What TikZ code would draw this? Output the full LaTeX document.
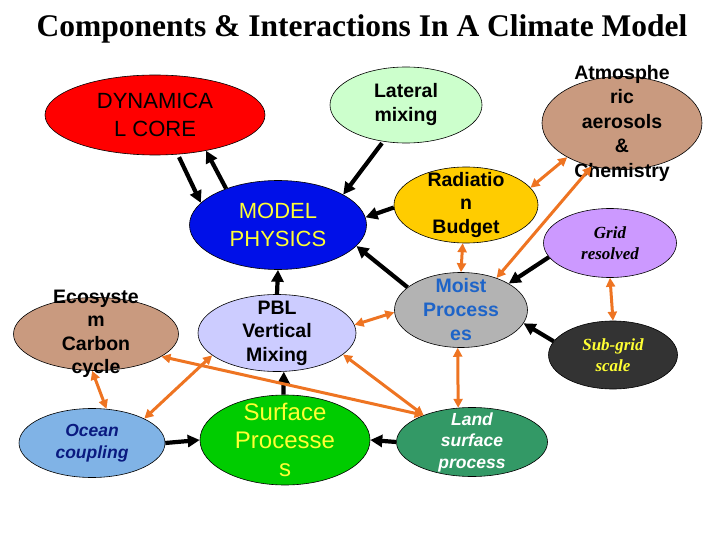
\documentclass[tikz,border=0pt]{standalone}
\usepackage{fontspec}
\setmainfont{Liberation Serif}
\setsansfont{Liberation Sans}
\usetikzlibrary{shapes.geometric,arrows.meta}
\definecolor{dyncol}{HTML}{FF0000}
\definecolor{latcol}{HTML}{CCFFCC}
\definecolor{brncol}{HTML}{C99A7F}
\definecolor{mpcol}{HTML}{0010E8}
\definecolor{radcol}{HTML}{FFCC00}
\definecolor{gridcol}{HTML}{CC99FF}
\definecolor{pblcol}{HTML}{CCCCFF}
\definecolor{moistcol}{HTML}{B3B3B3}
\definecolor{moisttxt}{HTML}{1E64C8}
\definecolor{subcol}{HTML}{333333}
\definecolor{oceancol}{HTML}{80B3E6}
\definecolor{oceantxt}{HTML}{0A1A80}
\definecolor{surfcol}{HTML}{00CC00}
\definecolor{landcol}{HTML}{339966}
\definecolor{yell}{HTML}{FFFF33}
\definecolor{orng}{HTML}{EE7422}
\newcommand{\fs}[2]{\fontsize{#1}{#2}\selectfont}
\begin{document}
\begin{tikzpicture}[x=1pt, y=-1pt,
    blob/.style={ellipse, draw=black, line width=0.6pt, inner sep=0pt},
    txt/.style={align=center, inner sep=0pt},
    blk/.style={-{Triangle[length=12pt,width=12pt]}, line width=4.2pt, black},
    org/.style={{Triangle[length=9pt,width=9pt]}-{Triangle[length=9pt,width=9pt]}, line width=3pt, orng}]
  \useasboundingbox (0,0) rectangle (720,540);
  \node[txt, font=\bfseries\fs{31.5}{36}] (title) at (362,29) {Components \& Interactions In A Climate Model};
  % the blobs
  \node[blob, fill=dyncol, minimum width=220, minimum height=80] (dyn) at (155,115) {};
  \node[blob, fill=latcol, minimum width=152, minimum height=76] (lat) at (406,105) {};
  \node[blob, fill=brncol, minimum width=160, minimum height=93] (atm) at (622,123) {};
  \node[blob, fill=mpcol, minimum width=177, minimum height=89] (mp) at (278,225) {};
  \node[blob, fill=radcol, minimum width=144, minimum height=76] (rad) at (466,205) {};
  \node[blob, fill=gridcol, minimum width=133, minimum height=69] (grid) at (610,243) {};
  \node[blob, fill=brncol, minimum width=165, minimum height=73] (eco) at (96,334) {};
  \node[blob, fill=pblcol, minimum width=158, minimum height=77] (pbl) at (277,333) {};
  \node[blob, fill=moistcol, minimum width=133, minimum height=75] (moist) at (461,310) {};
  \node[blob, fill=subcol, minimum width=129, minimum height=68] (sub) at (613,355) {};
  \node[blob, fill=oceancol, minimum width=146, minimum height=69] (ocean) at (92,443) {};
  \node[blob, fill=surfcol, minimum width=170, minimum height=90] (surf) at (285,440) {};
  \node[blob, fill=landcol, minimum width=151, minimum height=69] (land) at (472,442) {};
  % their texts
  \node[txt, font=\sffamily\fs{22}{28}] (dyn-t) at (dyn) {DYNAMICA\\L CORE};
  \node[txt, font=\sffamily\bfseries\fs{19.5}{24}] (lat-t) at (lat) {Lateral\\mixing};
  \node[txt, font=\sffamily\bfseries\fs{19.5}{24.5}] (atm-t) at (atm) {Atmosphe\\ric\\aerosols\\\&\\Chemistry};
  \node[txt, yell, font=\sffamily\fs{22}{28.5}] (mp-t) at (mp) {MODEL\\PHYSICS};
  \node[txt, font=\sffamily\bfseries\fs{19.5}{23.5}] (rad-t) at (rad) {Radiatio\\n\\Budget};
  \node[txt, font=\rmfamily\bfseries\itshape\fs{17}{21.5}] (grid-t) at (grid) {Grid\\resolved};
  \node[txt, font=\sffamily\bfseries\fs{19.5}{23.5}] (eco-t) at (eco) {Ecosyste\\m\\Carbon\\cycle};
  \node[txt, font=\sffamily\bfseries\fs{19.5}{23.5}] (pbl-t) at (pbl) {PBL\\Vertical\\Mixing};
  \node[txt, moisttxt, font=\sffamily\bfseries\fs{19.5}{24}] (moist-t) at (moist) {Moist\\Process\\es};
  \node[txt, yell, font=\rmfamily\bfseries\itshape\fs{17}{21.5}] (sub-t) at (sub) {Sub-grid\\scale};
  \node[txt, oceantxt, font=\sffamily\bfseries\itshape\fs{17.5}{21.5}] (ocean-t) at (ocean) {Ocean\\coupling};
  \node[txt, yell, font=\sffamily\fs{24}{28}] (surf-t) at (surf) {Surface\\Processe\\s};
  \node[txt, white, font=\sffamily\bfseries\itshape\fs{17.5}{21.5}] (land-t) at (land) {Land\\surface\\process};
  % black arrows
  \draw[blk, shorten <=3pt] (dyn.-60) -- (mp.164);
  \draw[blk] (mp.145) -- (dyn.-35);
  \draw[blk, shorten <=2pt] (lat.-122) -- (mp.25);
  \draw[blk] (rad.182) -- (mp.5);
  \draw[blk] (moist.157) -- (mp.-15);
  \draw[blk] (pbl.north) -- (mp.south);
  \draw[blk] (surf.92) -- (pbl.-80);
  \draw[blk] (ocean.east) -- (surf.west);
  \draw[blk] (land.west) -- (surf.east);
  \draw[blk] (sub.167) -- (moist.-12);
  \draw[blk] (grid.193) -- (moist.29);
  % orange arrows
  \draw[org] (rad.15) -- (atm.212);
  \draw[org] (moist.42) -- (atm.235);
  \draw[org] (rad.-95) -- (moist.north);
  \draw[org] (grid.south) -- (sub.north);
  \draw[org] (moist.-95) -- (land.112);
  \draw[org] (pbl.6) -- (moist.182);
  \draw[org] (pbl.-18) -- (land.151);
  \draw[org] (eco.-19) -- (land.151);
  \draw[org] (ocean.25) -- (pbl.199);
  \draw[org] (eco.-96) -- (ocean.67);
\end{tikzpicture}
\end{document}
